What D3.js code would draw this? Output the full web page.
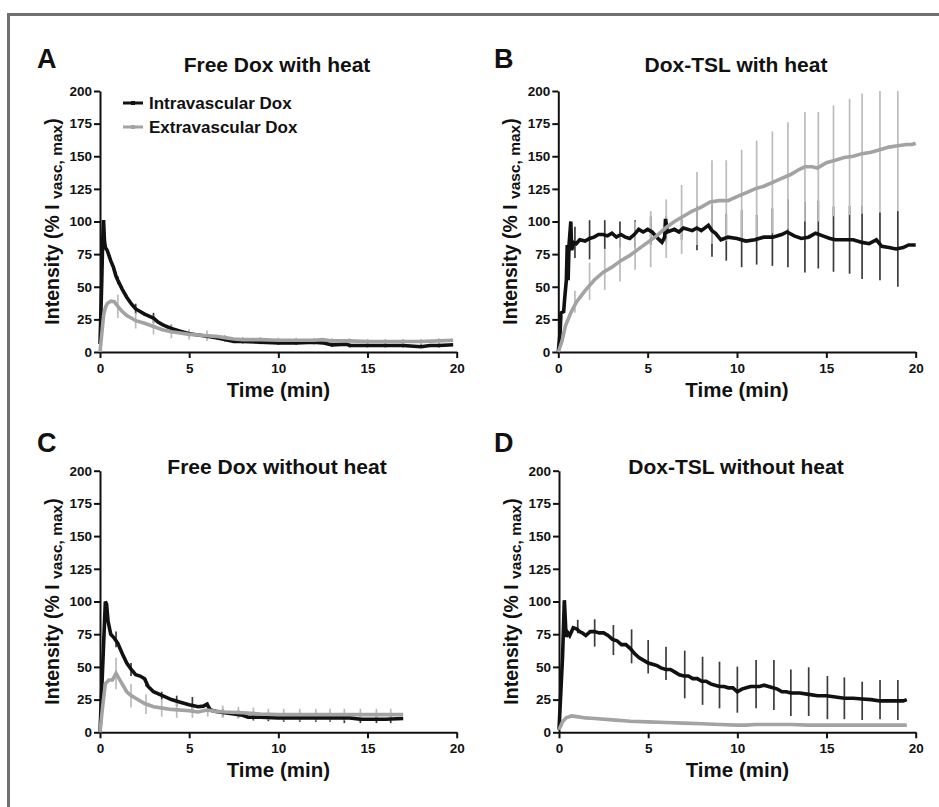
<!DOCTYPE html>
<html><head><meta charset="utf-8">
<script src="https://cdn.jsdelivr.net/npm/d3@7"></script>
<style>
body{margin:0;background:#fff}
svg{display:block}
text{font-family:"Liberation Sans",Arial,Helvetica,sans-serif;font-weight:bold;fill:#111}
</style>
</head><body>
<svg id="c" width="939" height="807"></svg>
<script>
// ---------- data ----------
const xTicks = [0, 5, 10, 15, 20];
const yTicks = [0, 25, 50, 75, 100, 125, 150, 175, 200];
const seriesNames = ["Intravascular Dox", "Extravascular Dox"];
const panelLetters = ["A", "B", "C", "D"];
const panelTitles = ["Free Dox with heat", "Dox-TSL with heat", "Free Dox without heat", "Dox-TSL without heat"];
const xLabel = "Time (min)";

// Panel A: Free Dox with heat  [time, value]
const aIntra = [[0,6],[0.05,30],[0.1,55],[0.15,85],[0.2,101],[0.25,85],[0.3,80],[0.4,78],[0.5,74],[0.6,70],[0.75,65],[0.9,58],[1.0,55],[1.25,48],[1.5,42],[1.75,37],[2.0,33],[2.25,31],[2.5,29],[2.75,27.5],[3.0,26],[3.25,23],[3.5,21],[3.75,19.5],[4.0,18],[4.5,16],[5.0,14],[5.5,13],[6.0,12],[6.5,11],[7.0,9.5],[7.5,8],[8.0,8],[9.0,7.5],[10,7],[11,7],[12,7.5],[12.5,7],[13,5.5],[13.8,6],[14,5],[15,5],[16,5],[17,5],[18,4],[18.5,5],[19,5],[19.8,5.5]];
const aExtra = [[0,0],[0.1,14],[0.2,28],[0.3,34],[0.4,37],[0.6,39],[0.8,38.5],[1.0,35],[1.25,31],[1.5,28],[1.75,26],[2.0,24],[2.5,22],[3.0,19.5],[3.5,17],[4.0,15.5],[4.5,14.5],[5.0,13.5],[5.5,13],[6.0,12.5],[6.5,12],[7.0,11],[7.5,10],[8.0,9.5],[9,9.5],[10,9],[11,9],[12,9],[12.5,9.5],[13,8.5],[14,8.5],[15,8],[16,8],[17,8],[18,8],[19,8.5],[19.8,9]];
// error bars [time, low, high]
const aIntraErr = [[1,52,58],[2,29,37],[3,22,30],[4,15,21],[5,12,16],[6,10,14],[7,8,11],[8,6.5,9.5],[9,6,9],[10,5.5,8.5],[11,5.5,8.5],[12,6,9],[13,4,7],[14,3.5,6.5],[15,3.5,6.5],[16,3.5,6.5],[17,3.5,6.5],[18,3,6],[19,3.5,6.5]];
const aExtraErr = [[1,26,44],[2,18,30],[3,13.5,25.5],[4,10.5,20.5],[5,9.5,17.5],[6,8.5,16.5],[7,9,13],[8,7.5,11.5],[9,7.5,11.5],[10,7,11],[11,7,11],[12,7,11],[13,6.5,10.5],[14,6.5,10.5],[15,6,10],[16,6,10],[17,6,10],[18,6,10],[19,6.5,10.5]];

// Panel B: Dox-TSL with heat
const bIntra = [[0,0],[0.1,15],[0.15,30],[0.3,31],[0.35,40],[0.45,55],[0.5,82],[0.55,55],[0.6,82],[0.7,100],[0.75,78],[0.85,84],[1.0,83],[1.2,86],[1.5,85],[1.75,87],[2.0,88],[2.25,90],[2.5,90],[2.75,89],[3.0,91],[3.25,88],[3.5,90],[3.75,88],[4.0,87],[4.25,90],[4.5,94],[4.75,92],[5.0,94],[5.25,92],[5.5,88],[5.8,84],[5.95,88],[6.0,102],[6.1,92],[6.5,94],[6.75,92],[7.0,95],[7.5,93],[7.75,95],[8.0,93],[8.4,97],[8.6,93],[8.8,91],[9.1,86],[9.5,88],[10,87],[10.5,85],[11,86],[11.5,88],[12,88],[12.5,90],[12.8,92],[13.2,89],[13.6,87],[14,88],[14.4,91],[14.8,89],[15.2,87],[15.5,86],[16,86],[16.5,86],[17,84],[17.4,83],[17.8,86],[18.1,81],[18.5,80],[18.9,79],[19.3,80],[19.6,82],[20,82]];
const bExtra = [[0,0],[0.2,8],[0.4,20],[0.7,30],[1.0,38],[1.5,47],[2.0,55],[2.5,61],[3.0,65],[3.5,70],[4.0,74],[4.5,79],[5.0,84],[5.5,89],[6.0,95],[6.5,100],[7.0,104],[7.5,108],[8.0,111],[8.5,115],[9.0,116],[9.5,116],[10,119],[10.5,122],[11,125],[11.5,127],[12,130],[12.5,133],[13,136],[13.5,140],[13.8,142],[14.2,142],[14.5,141],[15,145],[15.5,147],[16,149],[16.5,150],[17,152],[17.5,153],[18,155],[18.5,157],[19,158],[19.5,159],[19.8,159],[20,160]];
const bIntraErr = [[0.93,72,96],[1.75,71,101],[2.6,79,101],[3.45,80,100],[4.3,80,101],[5.17,82,104],[6.04,84,104],[6.9,86,102],[7.76,78,112],[8.6,73,113],[9.4,70,106],[10.26,65,109],[11.1,67,105],[11.98,66,110],[12.85,65,117],[13.8,61,115],[14.55,64,116],[15.4,61.5,111.5],[16.3,60,112],[17.0,56,112],[18.0,55,107],[19.0,50,108]];
const bExtraErr = [[0.93,30,47],[1.75,40,68.5],[2.6,47.5,79],[3.45,54,91],[4.3,63,100],[5.17,65,108],[6.04,72,117],[6.9,75,128],[7.76,82,138],[8.6,83,147],[9.4,85,147],[10.26,85,155],[11.1,88,162],[11.98,91,169],[12.85,94,176],[13.8,100,184],[14.55,100,184],[15.4,104,189],[16.3,105,194],[17.0,106,198],[18.0,107,203],[19.0,108,208]];

// Panel C: Free Dox without heat
const cIntra = [[0,0],[0.15,50],[0.3,100],[0.37,98],[0.45,85],[0.6,75],[0.8,72],[1.0,68],[1.25,60],[1.5,53],[1.75,48],[2.0,44],[2.25,43],[2.5,41],[2.7,35],[3.0,31],[3.5,28],[4.0,25],[4.5,23],[5.0,21],[5.5,19.5],[5.8,20],[6.0,21.5],[6.2,17],[6.5,16],[7.0,15],[7.5,14],[8.0,13],[8.3,11.5],[9,11.5],[10,11],[11,11],[12,11],[13,11],[14,11],[14.6,10],[15,10],[16,10],[17,10.5]];
const cExtra = [[0,0],[0.15,20],[0.3,37],[0.5,40],[0.7,40],[0.9,45],[1.2,38],[1.5,31],[1.75,28],[2.0,26],[2.5,22],[3.0,19.5],[3.5,18.5],[4.0,17.5],[5.0,16.5],[5.5,15.5],[6.0,17],[6.5,16],[7.0,15.5],[8.0,15],[9.0,14],[10,13.5],[11,13.5],[12,13.5],[13,13.5],[14,13.5],[15,13.5],[16,13.5],[17,13.5]];
const cIntraErr = [[0.9,65,77],[1.74,43,53],[2.58,35,41],[3.46,25,31],[4.3,20,28],[5.18,15,27],[6.04,17,23],[6.88,12,18],[7.76,11,17],[8.6,9,14],[9.44,8.5,14],[10.3,8,14],[11.2,8,14],[12.1,8,14],[12.9,8,14],[13.7,7,14],[14.6,7,13],[15.5,7,13],[16.3,7,13]];
const cExtraErr = [[0.9,33,57],[1.74,19,37],[2.58,14,29],[3.46,12,25],[4.3,11,23],[5.18,11,21.5],[6.04,12,22],[6.88,11,20.5],[7.76,10.5,19.5],[8.6,10,19],[9.44,9.5,18],[10.3,9,18],[11.2,9,18],[12.1,9,18],[12.9,9,18],[13.7,9,18],[14.6,9,18],[15.5,9,18],[16.3,9,18]];

// Panel D: Dox-TSL without heat
const dIntra = [[0,2],[0.1,30],[0.2,58],[0.3,101],[0.4,73],[0.5,76],[0.6,74],[0.8,80],[1.0,79],[1.15,77],[1.3,76],[1.5,74],[1.75,77],[2.0,77],[2.25,76],[2.5,76],[2.75,74],[3.0,71],[3.25,70],[3.5,67],[3.75,67],[4.0,64],[4.25,60],[4.5,57],[4.75,55],[5.0,53],[5.25,52],[5.5,51],[5.75,49],[6.0,48],[6.25,48],[6.5,46],[6.75,44],[7.0,43],[7.25,43],[7.5,41],[7.75,41],[8.0,39],[8.25,39],[8.5,37],[8.75,36],[9.0,35],[9.25,35],[9.5,34],[9.75,34],[10.0,31],[10.25,33],[10.5,34],[10.75,35],[11.0,35],[11.25,35],[11.5,36],[11.75,35],[12.0,34],[12.25,33],[12.5,31],[12.75,31],[13.0,30],[13.5,30],[14.0,29],[14.5,28],[15.0,28],[15.5,27],[16.0,26],[16.5,26],[17.0,25.5],[17.5,25],[18.0,24],[18.5,24],[19.0,24],[19.3,24],[19.5,25]];
const dExtra = [[0,2],[0.2,8],[0.4,11],[0.7,12.5],[1.0,12],[1.5,11],[2.0,10.5],[3.0,9.5],[4.0,8.5],[5.0,8],[6.0,7.5],[7.0,7],[8.0,6.5],[9.0,6],[10.0,5.5],[10.5,5.5],[11.0,6],[12.0,6],[13.0,6],[14.0,5.5],[15.0,5.5],[16.0,5.5],[17.0,5.5],[18.0,5.5],[19.0,5.5],[19.5,5.5]];
const dIntraErr = [[1.05,75.7,86],[2.0,65.5,86.4],[3.05,59,82],[4.07,52.7,78.7],[5.0,45,70.6],[6.0,40,65.5],[7.05,26,62.4],[8.05,21,57.8],[9.0,18.3,54],[10.0,15,50.2],[11.05,18.3,55.3],[12.05,17,55.3],[13.0,12.5,48],[14.0,12.5,49.7],[15.05,10,43],[16.0,10,42],[17.0,9.4,38.7],[18.0,10,40],[19.0,9.4,40]];
const dExtraErr = [];

// ---------- drawing ----------
const svg = d3.select("#c");
const C = {intra:"#111111", extra:"#a3a3a3", intraErr:"#3c3c3c", extraErr:"#bcbcbc"};

// outer frame (top & left visible)
svg.append("path").attr("d","M8.5,807 V14.5 H939")
  .attr("fill","none").attr("stroke","#707070").attr("stroke-width",3);

const panels = [
  {x0:100, x1:456.7, y0:91,    y1:352,   lx:37,  ly:68,  tx:277, ty:72,  intra:aIntra, extra:aExtra, ie:aIntraErr, ee:aExtraErr, legend:true},
  {x0:558.3, x1:915.7, y0:91,  y1:352,   lx:494, ly:68,  tx:736, ty:72,  intra:bIntra, extra:bExtra, ie:bIntraErr, ee:bExtraErr},
  {x0:100, x1:456.7, y0:470.7, y1:732.3, lx:37,  ly:452, tx:277, ty:474, intra:cIntra, extra:cExtra, ie:cIntraErr, ee:cExtraErr},
  {x0:559, x1:915.7, y0:470.7, y1:732.3, lx:494, ly:452, tx:736, ty:474, intra:dIntra, extra:dExtra, ie:dIntraErr, ee:dExtraErr}
];

panels.forEach((p, i) => {
  const x = d3.scaleLinear().domain([0, 20]).range([p.x0, p.x1]);
  const y = d3.scaleLinear().domain([0, 200]).range([p.y1, p.y0]).clamp(true);
  const g = svg.append("g");

  // letter & title
  g.append("text").attr("x", p.lx).attr("y", p.ly).attr("font-size", 27).text(panelLetters[i]);
  g.append("text").attr("x", p.tx).attr("y", p.ty).attr("text-anchor","middle").attr("font-size", 21).text(panelTitles[i]);

  // axes
  const ya = g.append("g").attr("transform", `translate(${p.x0},0)`)
    .call(d3.axisLeft(y).tickValues(yTicks).tickSize(6).tickSizeOuter(0).tickPadding(2).tickFormat(d3.format("d")));
  const xa = g.append("g").attr("transform", `translate(0,${p.y1})`)
    .call(d3.axisBottom(x).tickValues(xTicks).tickSize(6).tickSizeOuter(0).tickPadding(5).tickFormat(d3.format("d")));
  [ya, xa].forEach(a => {
    a.select(".domain").attr("stroke","#111").attr("stroke-width",2);
    a.selectAll(".tick line").attr("stroke","#111").attr("stroke-width",2);
    a.selectAll(".tick text").attr("font-size",13.5).attr("font-family","'Liberation Sans',Arial,sans-serif")
      .attr("font-weight","bold").attr("fill","#111");
  });

  // axis labels
  const yl = g.append("text")
    .attr("transform", `translate(${p.x0 - 41},${(p.y0 + p.y1) / 2}) rotate(-90)`)
    .attr("text-anchor","middle").attr("font-size",19.5);
  yl.append("tspan").text("Intensity (% I ");
  yl.append("tspan").attr("font-size",15.5).attr("dy",3).text("vasc, max");
  yl.append("tspan").attr("dy",-3).text(")");
  g.append("text").attr("x",(p.x0+p.x1)/2).attr("y",p.y1+45).attr("text-anchor","middle")
    .attr("font-size",20.5).text(xLabel);

  // error bars
  const bars = (data, col) => g.append("g").selectAll("line").data(data).join("line")
    .attr("x1", d => x(d[0])).attr("x2", d => x(d[0]))
    .attr("y1", d => y(d[1])).attr("y2", d => y(d[2]))
    .attr("stroke", col).attr("stroke-width", 1.7);
  bars(p.ie, C.intraErr);
  bars(p.ee, C.extraErr);

  // lines
  const line = d3.line().x(d => x(d[0])).y(d => y(d[1]));
  g.append("path").datum(p.intra).attr("d", line).attr("fill","none")
    .attr("stroke", C.intra).attr("stroke-width", 3.6).attr("stroke-linejoin","miter");
  g.append("path").datum(p.extra).attr("d", line).attr("fill","none")
    .attr("stroke", C.extra).attr("stroke-width", 3.6);

  // legend
  if (p.legend) {
    const lg = g.append("g");
    const rows = [{n:seriesNames[0], c:C.intra, y:103}, {n:seriesNames[1], c:C.extra, y:127}];
    rows.forEach(r => {
      lg.append("line").attr("x1",123).attr("x2",143).attr("y1",r.y).attr("y2",r.y)
        .attr("stroke",r.c).attr("stroke-width",3);
      lg.append("rect").attr("x",131).attr("y",r.y-2).attr("width",4).attr("height",4).attr("fill",r.c);
      lg.append("text").attr("x",149).attr("y",r.y+6).attr("font-size",17).text(r.n);
    });
  }
});
</script>
</body></html>
